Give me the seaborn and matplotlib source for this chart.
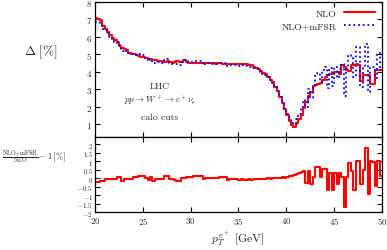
import numpy as np
import matplotlib
matplotlib.use("Agg")
import matplotlib.pyplot as plt
import seaborn as sns

# bins of 0.25 GeV from 20 to 50 GeV (lower edges)
bin_lo = np.arange(20.0, 50.0, 0.25)

# Delta [%] for NLO
delta_nlo = [
    7.1, 7.05, 6.95, 6.6, 6.45, 6.3, 6.1, 5.95,
    5.8, 5.65, 5.5, 5.35, 5.3, 5.25, 5.1, 5.05,
    5.0, 4.95, 4.9, 4.85, 4.85, 4.8, 4.75, 4.72,
    4.7, 4.65, 4.6, 4.62, 4.58, 4.55, 4.6, 4.55,
    4.52, 4.55, 4.6, 4.55, 4.58, 4.68, 4.55, 4.5,
    4.5, 4.48, 4.5, 4.52, 4.5, 4.48, 4.5, 4.52,
    4.5, 4.48, 4.47, 4.5, 4.48, 4.46, 4.47, 4.45,
    4.47, 4.46, 4.45, 4.44, 4.45, 4.44, 4.45, 4.43,
    4.42, 4.38, 4.3, 4.22, 4.15, 4.05, 3.95, 3.85,
    3.7, 3.55, 3.4, 3.15, 2.9, 2.55, 2.2, 1.85,
    1.55, 1.2, 0.95, 0.85, 1.05, 1.3, 1.55, 1.95,
    2.3, 2.6, 2.85, 3.2, 3.25, 3.3, 3.35, 3.55,
    3.7, 3.8, 3.9, 3.9, 4.0, 4.0, 3.85, 4.4,
    4.3, 4.1, 4.05, 4.4, 4.4, 4.45, 4.4, 3.5,
    3.8, 3.8, 3.8, 3.3, 3.3, 4.1, 4.1, 4.1,
]

# Delta [%] for NLO+mFSR
delta_mfsr = [
    6.88, 6.83, 6.79, 6.44, 6.37, 6.22, 6.02, 5.87,
    5.72, 5.69, 5.54, 5.17, 5.26, 5.21, 5.06, 5.01,
    5.04, 4.99, 5.04, 4.99, 4.97, 4.78, 4.63, 4.76,
    4.52, 4.59, 4.54, 4.56, 4.52, 4.69, 4.74, 4.49,
    4.46, 4.43, 4.44, 4.39, 4.56, 4.66, 4.63, 4.58,
    4.58, 4.6, 4.62, 4.64, 4.62, 4.4, 4.48, 4.5,
    4.48, 4.46, 4.45, 4.48, 4.52, 4.5, 4.51, 4.33,
    4.41, 4.4, 4.39, 4.36, 4.35, 4.39, 4.35, 4.31,
    4.36, 4.28, 4.22, 4.18, 4.09, 4.01, 3.87, 3.81,
    3.68, 3.51, 3.38, 3.15, 2.92, 2.55, 2.24, 1.87,
    1.61, 1.3, 1.07, 1.03, 1.27, 1.58, 1.89, 2.37,
    2.0, 3.0, 2.5, 3.25, 3.9, 3.95, 3.4, 4.1,
    4.25, 3.1, 4.2, 3.2, 4.3, 3.65, 4.15, 4.45,
    2.6, 4.15, 4.95, 4.8, 3.7, 5.45, 5.4, 3.15,
    4.25, 5.6, 2.85, 4.3, 4.25, 3.65, 5.1, 4.2,
]

# (NLO+mFSR)/NLO - 1 [%]
ratio = [
    -0.22, -0.22, -0.16, -0.16, -0.08, -0.08, -0.08, -0.08,
    -0.08, 0.04, 0.04, -0.18, -0.04, -0.04, -0.04, -0.04,
    0.04, 0.04, 0.14, 0.14, 0.12, -0.02, -0.12, 0.04,
    -0.18, -0.06, -0.06, -0.06, -0.06, 0.14, 0.14, -0.06,
    -0.06, -0.12, -0.16, -0.16, -0.02, -0.02, 0.08, 0.08,
    0.08, 0.12, 0.12, 0.12, 0.12, -0.08, -0.02, -0.02,
    -0.02, -0.02, -0.02, -0.02, 0.04, 0.04, 0.04, -0.12,
    -0.06, -0.06, -0.06, -0.08, -0.1, -0.05, -0.1, -0.12,
    -0.06, -0.1, -0.08, -0.04, -0.06, -0.04, -0.08, -0.04,
    -0.02, -0.04, -0.02, 0.0, 0.02, 0.0, 0.04, 0.02,
    0.06, 0.1, 0.12, 0.18, 0.22, 0.28, 0.34, 0.42,
    -0.3, 0.4, -0.35, 0.05, 0.65, 0.65, 0.05, 0.55,
    0.55, -0.7, 0.3, -0.7, 0.3, -0.35, 0.3, 0.05,
    -1.7, 0.05, 0.9, 0.4, -0.7, 1.0, 1.0, -0.35,
    0.45, 1.8, -0.95, 1.0, 0.95, -0.45, 1.0, 0.1,
]

x_ticks = [20, 25, 30, 35, 40, 45, 50]
top_yticks = [1, 2, 3, 4, 5, 6, 7, 8]
bot_yticks = [-2, -1.5, -1, -0.5, 0, 0.5, 1, 1.5, 2]

sns.set_theme(style="ticks")
plt.rcParams["font.family"] = ["serif"]
plt.rcParams["font.serif"] = ["cmr10", "DejaVu Serif"]
plt.rcParams["mathtext.fontset"] = "cm"
plt.rcParams["axes.formatter.use_mathtext"] = True


def steps(vals):
    # edges: lower edges + final upper edge, value repeated for steps-post
    edges = np.append(bin_lo, 50.0)
    return edges, np.append(vals, vals[-1])


fig = plt.figure(figsize=(3.87, 2.51), dpi=100)
ax1 = fig.add_axes([0.2455, 0.449, 0.7415, 0.539])
ax2 = fig.add_axes([0.2455, 0.151, 0.7415, 0.298])

ex, ey = steps(delta_nlo)
sns.lineplot(x=ex, y=ey, ax=ax1, drawstyle="steps-post", color="#ff0000",
             lw=1.5, estimator=None, sort=False, label="NLO")
ex, ey = steps(delta_mfsr)
sns.lineplot(x=ex, y=ey, ax=ax1, drawstyle="steps-post", color="#0000ff",
             lw=1.3, ls=(0, (1, 1.6)), estimator=None, sort=False,
             label="NLO+mFSR")

ex, ey = steps(ratio)
ax2.axhline(0, color="#999999", lw=0.6, ls=(0, (1, 2)))
sns.lineplot(x=ex, y=ey, ax=ax2, drawstyle="steps-post", color="#ff0000",
             lw=1.5, estimator=None, sort=False)

for ax in (ax1, ax2):
    ax.set_xlim(20, 50)
    ax.set_xticks(x_ticks)
    ax.tick_params(direction="in", top=True, right=True, length=3.5,
                   width=0.8, labelsize=6.5, pad=2, color="black")
    for s in ax.spines.values():
        s.set_linewidth(0.9)
        s.set_color("black")
    ax.set_xlabel("")
    ax.set_ylabel("")

ax1.set_ylim(0.25, 8)
ax1.set_yticks(top_yticks)
ax1.set_yticklabels([f"${v:g}$" for v in top_yticks])
ax1.set_xticklabels([])

ax2.set_ylim(-2, 2.4)
ax2.set_yticks(bot_yticks)
ax2.set_yticklabels([f"${v:g}$" for v in bot_yticks])
ax2.tick_params(axis="y", labelsize=5.0, pad=1.5)
ax2.set_xticklabels([f"${v}$" for v in x_ticks])

leg = ax1.legend(loc="upper right", frameon=False, markerfirst=False,
                 fontsize=7, handlelength=3.2, borderaxespad=0.3,
                 labelspacing=0.45)

ax1.text(26.8, 3.2, "LHC", fontsize=7, ha="center", va="center")
ax1.text(26.8, 2.45, r"$pp \rightarrow W^+ \rightarrow e^+\nu_e$",
         fontsize=6.5, ha="center", va="center")
ax1.text(26.8, 1.4, "calo cuts", fontsize=7, ha="center", va="center")

fig.text(0.105, 0.79, r"$\Delta\ [\%]$", fontsize=9.5, ha="center", va="center")
fig.text(0.005, 0.375, r"$\frac{\mathrm{NLO{+}mFSR}}{\mathrm{NLO}}-1\,[\%]$",
         fontsize=6.2, ha="left", va="center")
fig.text(0.615, 0.045, r"$p_T^{e^+}$ [GeV]", fontsize=8.5, ha="center",
         va="center")

fig.savefig("out.png", dpi=100)
